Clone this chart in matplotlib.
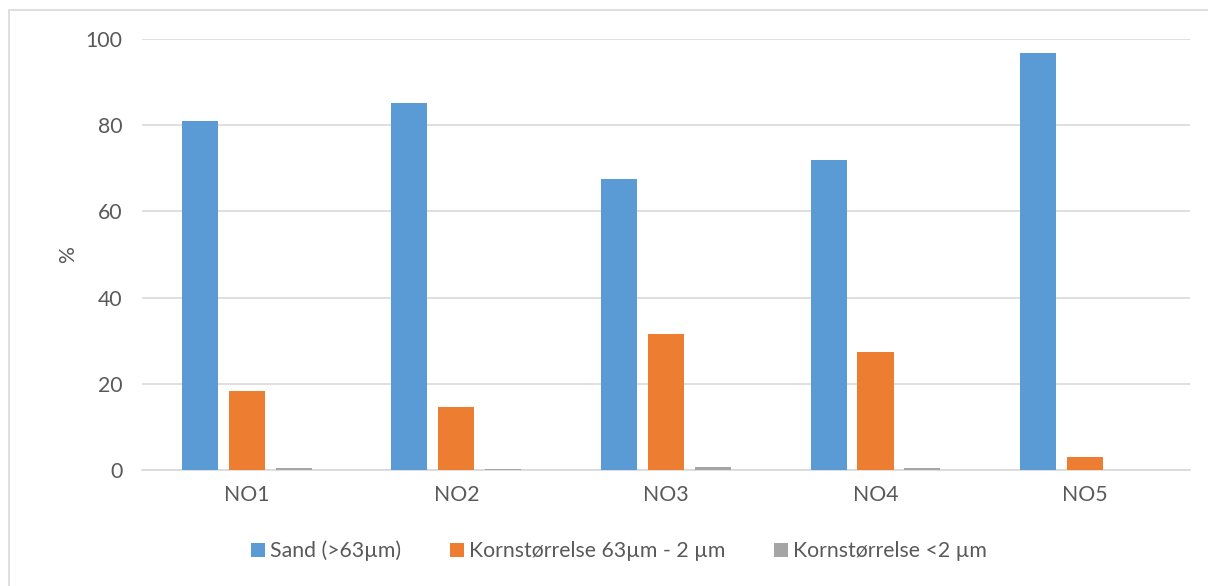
import numpy as np
import matplotlib.pyplot as plt
from matplotlib.patches import Rectangle

# Grain size distribution per sample
samples = ['NO1', 'NO2', 'NO3', 'NO4', 'NO5']
sand = [81.0, 85.2, 67.5, 72.0, 96.8]
silt = [18.4, 14.5, 31.6, 27.4, 3.1]
clay = [0.4, 0.2, 0.8, 0.5, 0.0]
series_names = ['Sand (>63µm)', 'Kornstørrelse 63µm - 2 µm', 'Kornstørrelse <2 µm']
yticks = [0, 20, 40, 60, 80, 100]

colors = ['#5B9BD5', '#ED7D31', '#A5A5A5']
txt = '#595959'
plt.rcParams['font.family'] = ['Lato', 'DejaVu Sans']
fs = 15.3

fig = plt.figure(figsize=(12.08, 5.86), dpi=100)
ax = fig.add_axes([0.1175, 0.198, 0.8675, 0.7356])

# chart border (cut off at the right and bottom)
fig.patches.append(Rectangle((9 / 1208, -0.05), 1.2, 1 - 10 / 586 + 0.05,
                             transform=fig.transFigure, fill=False,
                             edgecolor='#D9D9D9', linewidth=1.2))

x = np.arange(len(samples))
w = 0.172
off = 0.224
for i, vals in enumerate([sand, silt, clay]):
    ax.bar(x + (i - 1) * off, vals, w, color=colors[i], label=series_names[i], zorder=3)

ax.set_xlim(-0.5, len(samples) - 0.5)
ax.set_ylim(0, 100)
ax.set_yticks(yticks)
ax.set_xticks(x)
ax.set_xticklabels(samples)
ax.grid(axis='y', color='#D9D9D9', linewidth=1.2, zorder=0)
for s in ['top', 'right', 'left']:
    ax.spines[s].set_visible(False)
ax.spines['bottom'].set_color('#D9D9D9')
ax.spines['bottom'].set_linewidth(1.2)
ax.tick_params(length=0, labelsize=fs, colors=txt)
ax.tick_params(axis='y', pad=14)
ax.tick_params(axis='x', pad=11)
ax.set_ylabel('%', fontsize=fs, color=txt, labelpad=5)

fig.legend(loc='center', bbox_to_anchor=(619 / 1208, 0.06), ncol=3, frameon=False,
           fontsize=fs, labelcolor=txt, handlelength=0.65, handleheight=0.65,
           handletextpad=0.25, columnspacing=2.3)

fig.savefig('out.png', dpi=100, facecolor='white')
